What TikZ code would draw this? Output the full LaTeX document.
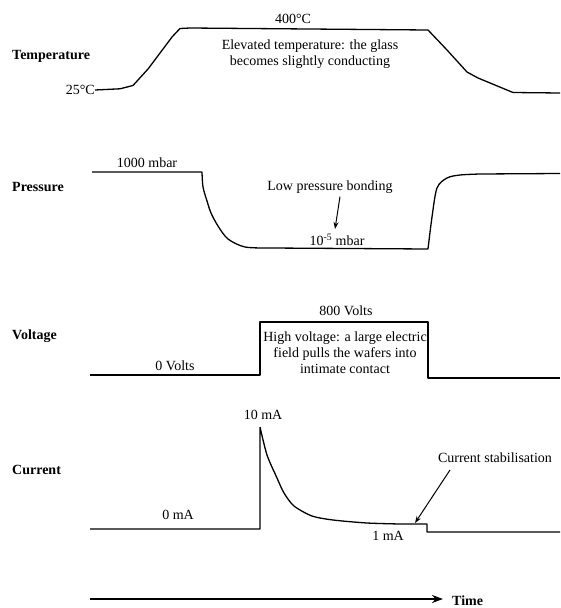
\documentclass[tikz,border=0pt]{standalone}
\usepackage{fontspec}
\setmainfont{Liberation Serif}
\usetikzlibrary{arrows.meta,calc}
\tikzset{
  lbl/.style={font=\fontsize{14}{16}\selectfont, inner sep=0pt, align=center},
  ttl/.style={font=\fontsize{14}{16}\selectfont\bfseries, inner sep=0pt, anchor=west},
  curve/.style={line width=1.3pt, line join=round},
  pointer/.style={line width=1pt, -{Stealth[length=7pt,width=5pt]}},
}
\begin{document}
\begin{tikzpicture}[x=1pt,y=-1pt]
\useasboundingbox (0,0) rectangle (560,608);
% Temperature
\node[ttl] (tT) at (12,56) {Temperature};
\node[lbl, anchor=east] (t25) at (95,90) {25°C};
\node[lbl] (t400) at (293,19) {400°C};
\node[lbl] (tEl) at (310,54) {Elevated temperature: the glass\\becomes slightly conducting};
\draw[curve] (t25.east) -- (120,88.8) -- (133,85.5) -- (148,69) -- (160,53) -- (172,37) -- (180,28.5) -- (190,28) -- (428,30) -- (447,50) -- (467,72) -- (478,78) -- (513,92.5) -- (560,93);
% Pressure
\node[ttl] (tP) at (12,187) {Pressure};
\node[lbl] (p1000) at (147,163) {1000 mbar};
\node[lbl] (pLow) at (330,187) {Low pressure bonding};
\node[lbl] (p105) at (337,240) {10\textsuperscript{-5} mbar};
\coordinate (pTip) at (335,229);
\draw[curve] (92,172) -- (202,172) plot[smooth, tension=0.5] coordinates {(202,172) (203,187) (207,201) (211,213) (218,226) (228,239) (245,247) (270,248)} -- (428,249) plot[smooth, tension=0.5] coordinates {(428,249) (432,217) (437,188) (447,178) (460,175) (480,174)} -- (560,173.5);
\draw[pointer] ($(pLow.south)+(10,3)$) -- (pTip);
% Voltage
\node[ttl] (tV) at (12,336) {Voltage};
\node[lbl] (v0) at (175,366) {0 Volts};
\node[lbl] (v800) at (346,311) {800 Volts};
\node[lbl] (vHigh) at (345,353) {High voltage: a large electric\\field pulls the wafers into\\intimate contact};
\draw[curve] (90,375) -- (260,375) -- (260,322) -- (428,322) -- (428,378) -- (560,378);
% Current
\node[ttl] (tC) at (12,470) {Current};
\node[lbl] (c10) at (263,415) {10 mA};
\node[lbl] (cStab) at (495,458) {Current stabilisation};
\node[lbl] (c0) at (178,515) {0 mA};
\node[lbl] (c1) at (388,536) {1 mA};
\coordinate (cTip) at (415,523);
\draw[curve] (90,529) -- (260,529) -- (260,427) plot[smooth, tension=0.45] coordinates {(260,427) (267,455) (277,478) (284,493) (294,506) (312,516) (333,520) (367,523) (400,524)} -- (427,524) -- (427,532) -- (560,532);
\draw[pointer] (450,470) -- (cTip);
% Time
\node[ttl] (tTime) at (452,601) {Time};
\coordinate (tStart) at (90,599);
\coordinate (tEnd) at (443,599);
\draw[line width=2pt, -{Stealth[length=11pt,width=8pt]}] (tStart) -- (tEnd);
\end{tikzpicture}
\end{document}
